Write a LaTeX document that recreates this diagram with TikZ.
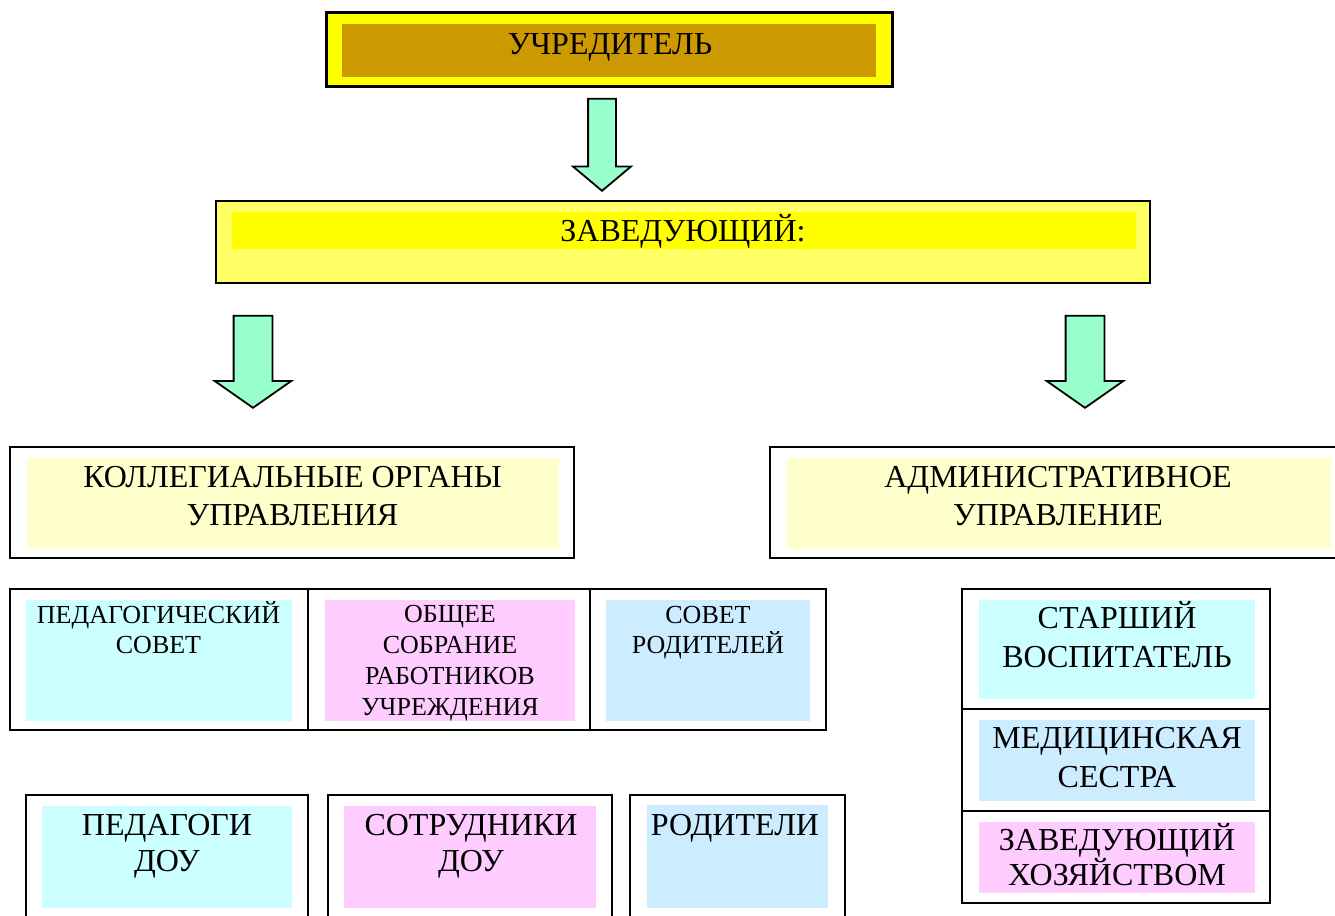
\documentclass[tikz,border=0pt]{standalone}
\usepackage{fontspec}
\setmainfont{Liberation Serif}
\usetikzlibrary{shapes.arrows}
\definecolor{brightyellow}{HTML}{FFFF00}
\definecolor{gold}{HTML}{CC9900}
\definecolor{lightyellow}{HTML}{FFFF66}
\definecolor{paleyellow}{HTML}{FFFFCC}
\definecolor{palecyan}{HTML}{CCFFFF}
\definecolor{palepink}{HTML}{FFCCFF}
\definecolor{paleblue}{HTML}{CCECFF}
\definecolor{mint}{HTML}{99FFCC}
\tikzset{
  box/.style={draw,line width=2.5pt,inner sep=0pt},
  pad/.style={inner sep=0pt},
  sz/.style 2 args={minimum width=#1pt,minimum height=#2pt},
  big/.style={font=\fontsize{32}{38}\selectfont,align=center,inner sep=0pt,anchor=base},
  small/.style={font=\fontsize{26}{30.7}\selectfont,align=center,inner sep=0pt,anchor=base},
  blockarrow/.style n args={3}{single arrow,draw,line width=1.8pt,fill=mint,rotate=-90,
    inner sep=#1,single arrow head extend=#2,minimum height=#3}
}
\begin{document}
\begin{tikzpicture}[x=1pt,y=-1pt]
  \clip (0,0) rectangle (1335,915);
  % top
  \node[box,line width=3pt,fill=brightyellow,sz={566}{74}] (uchr) at (609,50) {};
  \node[pad,fill=gold,sz={534}{53}] (uchrin) at (609,50.5) {};
  \node[big] (uchrtxt) at (610,55) {УЧРЕДИТЕЛЬ};
  \node[blockarrow={13pt}{15pt}{92pt},single arrow tip angle=100] (arr1) at (602,139) {};

  \node[box,fill=lightyellow,sz={934}{82}] (zav) at (683,242) {};
  \node[pad,fill=brightyellow,sz={904}{37}] (zavin) at (684,230.5) {};
  \node[big] (zavtxt) at (683,241) {ЗАВЕДУЮЩИЙ:};
  \node[blockarrow={18.5pt}{19pt}{92pt},single arrow tip angle=110] (arr2) at (253,355) {};
  \node[blockarrow={18.5pt}{19pt}{92pt},single arrow tip angle=110] (arr3) at (1085,355) {};

  % two branches
  \node[box,sz={564}{111}] (koll) at (292,502.5) {};
  \node[pad,fill=paleyellow,sz={532}{91}] (kollin) at (293,503.5) {};
  \node[big] (kolltxt) at (292.5,525) {КОЛЛЕГИАЛЬНЫЕ ОРГАНЫ\\УПРАВЛЕНИЯ};
  \node[box,sz={575}{111}] (admin) at (1057.5,502.5) {};
  \node[pad,fill=paleyellow,sz={544}{91}] (adminin) at (1059,503.5) {};
  \node[big] (admintxt) at (1058,525) {АДМИНИСТРАТИВНОЕ\\УПРАВЛЕНИЕ};

  % collegial bodies
  \node[box,sz={298}{141}] (pedsov) at (159,659.5) {};
  \node[pad,fill=palecyan,sz={266}{121}] (pedsovin) at (159,660.5) {};
  \node[small] (pedsovtxt) at (158.5,653.7) {ПЕДАГОГИЧЕСКИЙ\\СОВЕТ};
  \node[box,sz={282}{141}] (sobr) at (449,659.5) {};
  \node[pad,fill=palepink,sz={250}{121}] (sobrin) at (450,660.5) {};
  \node[small] (sobrtxt) at (450,715) {ОБЩЕЕ\\СОБРАНИЕ\\РАБОТНИКОВ\\УЧРЕЖДЕНИЯ};
  \node[box,sz={236}{141}] (rodsov) at (708,659.5) {};
  \node[pad,fill=paleblue,sz={204}{121}] (rodsovin) at (708,660.5) {};
  \node[small] (rodsovtxt) at (708,653.7) {СОВЕТ\\РОДИТЕЛЕЙ};

  \node[box,sz={282}{135}] (ped) at (167,862.5) {};
  \node[pad,fill=palecyan,sz={250}{102}] (pedin) at (167,857) {};
  \node[big,font=\fontsize{32}{36}\selectfont] (pedtxt) at (167,871) {ПЕДАГОГИ\\ДОУ};
  \node[box,sz={284}{135}] (sotr) at (470,862.5) {};
  \node[pad,fill=palepink,sz={252}{102}] (sotrin) at (470,857) {};
  \node[big,font=\fontsize{32}{36}\selectfont] (sotrtxt) at (471,871) {СОТРУДНИКИ\\ДОУ};
  \node[box,sz={215}{135}] (rod) at (737.5,862.5) {};
  \node[pad,fill=paleblue,sz={181}{103}] (rodin) at (737.5,856.5) {};
  \node[big] (rodtxt) at (735,835) {РОДИТЕЛИ};

  % administration
  \node[box,sz={308}{120}] (star) at (1116,649) {};
  \node[pad,fill=palecyan,sz={276}{99}] (starin) at (1117,649.5) {};
  \node[big,font=\fontsize{32}{39}\selectfont] (startxt) at (1117,667) {СТАРШИЙ\\ВОСПИТАТЕЛЬ};
  \node[box,sz={308}{102}] (med) at (1116,760) {};
  \node[pad,fill=paleblue,sz={276}{81}] (medin) at (1117,760.5) {};
  \node[big,font=\fontsize{32}{39}\selectfont] (medtxt) at (1117,787) {МЕДИЦИНСКАЯ\\СЕСТРА};
  \node[box,sz={308}{92}] (hoz) at (1116,857) {};
  \node[pad,fill=palepink,sz={276}{71}] (hozin) at (1117,857.5) {};
  \node[big,font=\fontsize{32}{35}\selectfont] (hoztxt) at (1117,885) {ЗАВЕДУЮЩИЙ\\ХОЗЯЙСТВОМ};
\end{tikzpicture}
\end{document}
